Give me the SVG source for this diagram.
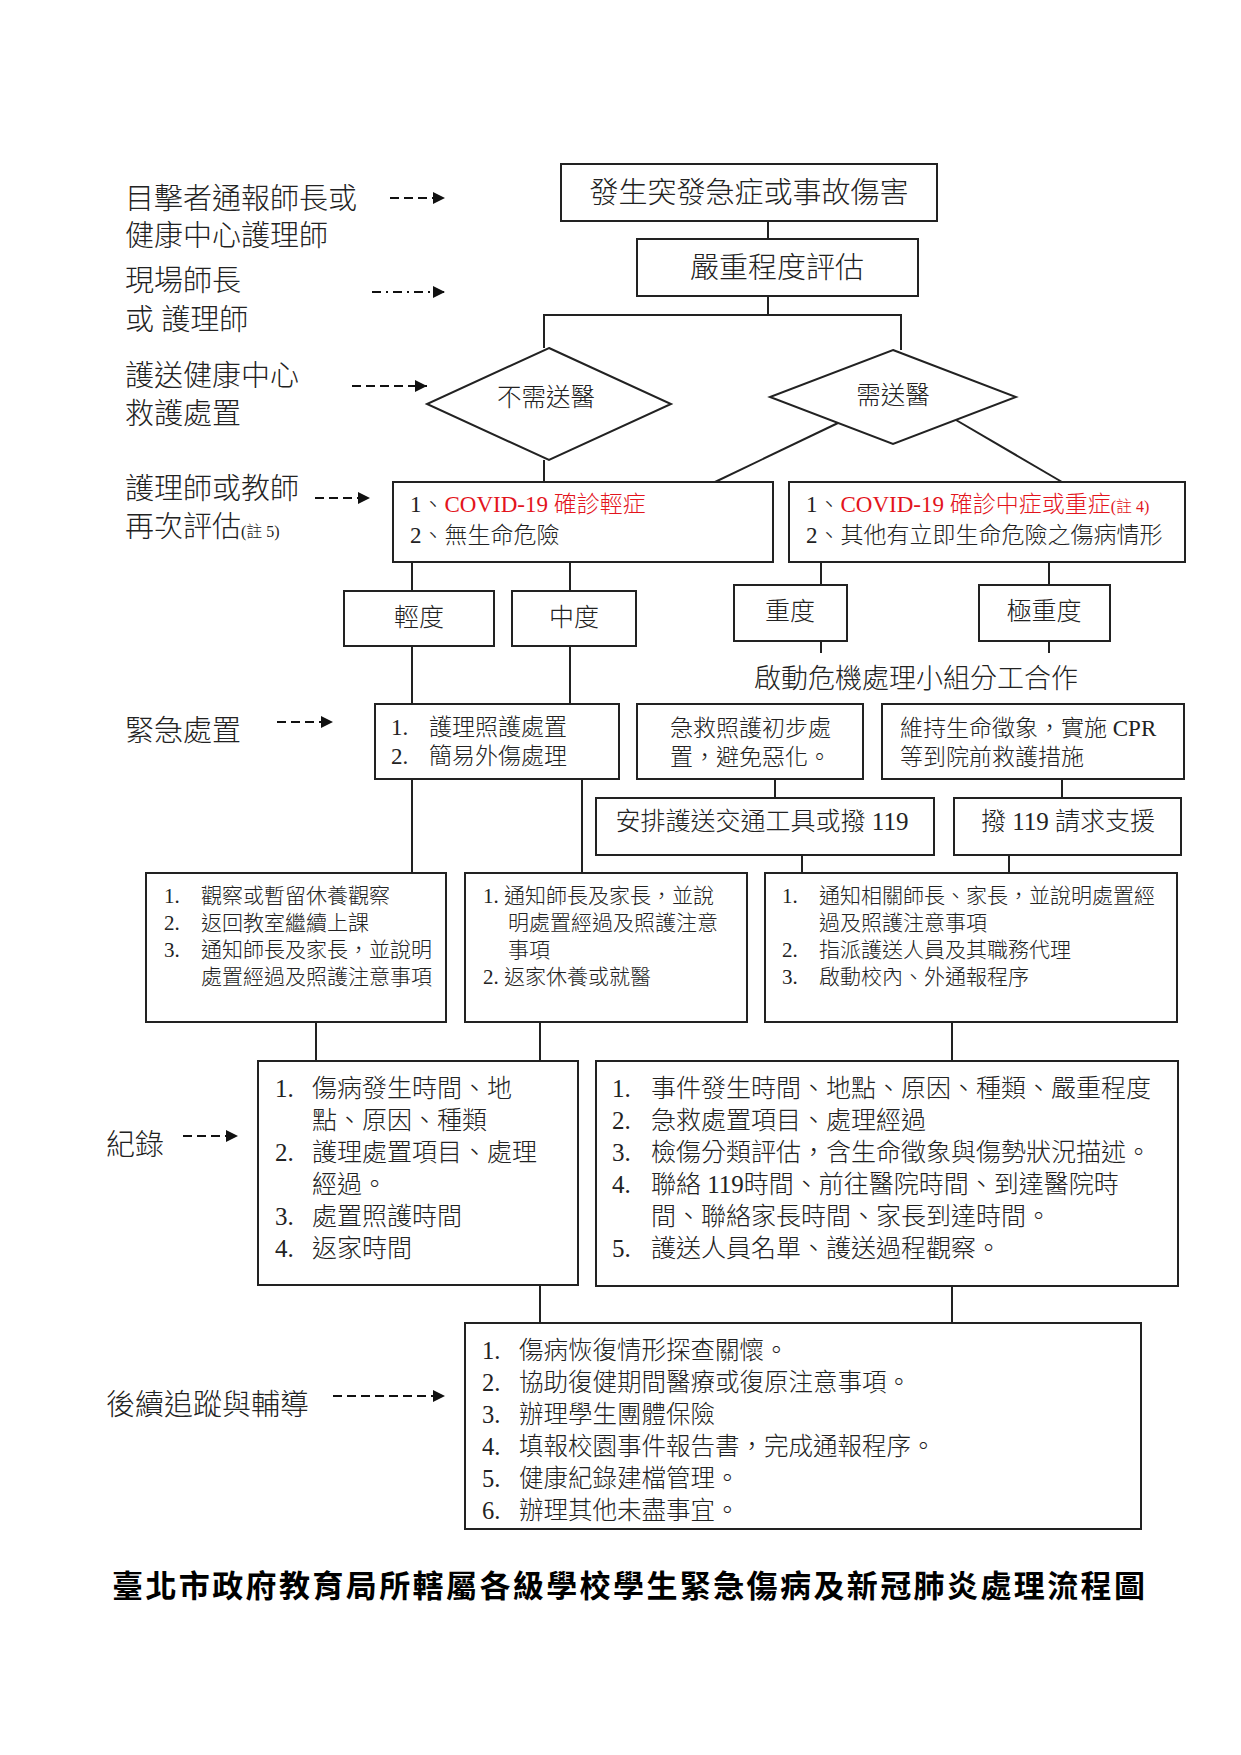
<svg xmlns="http://www.w3.org/2000/svg" width="1241" height="1755" viewBox="0 0 1241 1755">
<defs>
<style>
.box{fill:#fff;stroke:#222;stroke-width:2}
.ln{stroke:#222;stroke-width:2;fill:none}
.da{stroke:#111;stroke-width:2.2;fill:none;stroke-dasharray:9 5}
.dd{stroke:#111;stroke-width:2.2;fill:none;stroke-dasharray:9 5 2 5}
text{font-family:"Liberation Serif","Noto Sans CJK TC",serif;fill:#222;font-weight:300}
.f29{font-size:29px}
.f27{font-size:27px}
.f25{font-size:25px}
.f24{font-size:24.5px}
.f23{font-size:23px}
.f21{font-size:21px}
.red{fill:#e3141c}
.sm{font-size:16px}
.mid{text-anchor:middle}
.title{font-size:31px;font-weight:700;fill:#000}
</style>
<marker id="ah" viewBox="0 0 12 12" markerWidth="12" markerHeight="12" markerUnits="userSpaceOnUse" refX="12" refY="6" orient="auto">
<path d="M0,0 L12,6 L0,12 z" fill="#111"/>
</marker>
</defs>
<rect width="1241" height="1755" fill="#fff"/>

<g id="connectors">
<line class="ln" x1="768" y1="221" x2="768" y2="239"/>
<line class="ln" x1="768" y1="296" x2="768" y2="315"/>
<polyline class="ln" points="544,348 544,315 901,315 901,350"/>
<line class="ln" x1="544" y1="460" x2="544" y2="482"/>
<line class="ln" x1="838" y1="423" x2="715" y2="482"/>
<line class="ln" x1="956" y1="420" x2="1062" y2="482"/>
<line class="ln" x1="412" y1="562" x2="412" y2="591"/>
<line class="ln" x1="570" y1="562" x2="570" y2="591"/>
<line class="ln" x1="821" y1="562" x2="821" y2="585"/>
<line class="ln" x1="1049" y1="562" x2="1049" y2="585"/>
<line class="ln" x1="821" y1="641" x2="821" y2="653"/>
<line class="ln" x1="1049" y1="641" x2="1049" y2="653"/>
<line class="ln" x1="412" y1="646" x2="412" y2="704"/>
<line class="ln" x1="570" y1="646" x2="570" y2="704"/>
<line class="ln" x1="775" y1="779" x2="775" y2="798"/>
<line class="ln" x1="1062" y1="779" x2="1062" y2="798"/>
<line class="ln" x1="412" y1="779" x2="412" y2="873"/>
<line class="ln" x1="582" y1="779" x2="582" y2="873"/>
<line class="ln" x1="802" y1="855" x2="802" y2="873"/>
<line class="ln" x1="1009" y1="855" x2="1009" y2="873"/>
<line class="ln" x1="316" y1="1022" x2="316" y2="1061"/>
<line class="ln" x1="540" y1="1022" x2="540" y2="1061"/>
<line class="ln" x1="952" y1="1022" x2="952" y2="1061"/>
<line class="ln" x1="540" y1="1285" x2="540" y2="1323"/>
<line class="ln" x1="952" y1="1286" x2="952" y2="1323"/>
</g>

<g id="legend-arrows">
<line class="da" x1="390" y1="198" x2="445" y2="198" marker-end="url(#ah)"/>
<line class="dd" x1="372" y1="292" x2="445" y2="292" marker-end="url(#ah)"/>
<line class="da" x1="352" y1="386" x2="427" y2="386" marker-end="url(#ah)"/>
<line class="da" x1="315" y1="498" x2="370" y2="498" marker-end="url(#ah)"/>
<line class="da" x1="277" y1="722" x2="333" y2="722" marker-end="url(#ah)"/>
<line class="da" x1="183" y1="1136" x2="238" y2="1136" marker-end="url(#ah)"/>
<line class="da" x1="333" y1="1396" x2="445" y2="1396" marker-end="url(#ah)"/>
</g>

<g id="labels">
<text class="f29" x="125" y="209">目擊者通報師長或</text>
<text class="f29" x="125" y="246">健康中心護理師</text>
<text class="f29" x="125" y="291">現場師長</text>
<text class="f29" x="125" y="330">或 護理師</text>
<text class="f29" x="125" y="386">護送健康中心</text>
<text class="f29" x="125" y="424">救護處置</text>
<text class="f29" x="125" y="499">護理師或教師</text>
<text class="f29" x="125" y="537">再次評估<tspan class="sm">(註 5)</tspan></text>
<text class="f29" x="125" y="741">緊急處置</text>
<text class="f29" x="106" y="1155">紀錄</text>
<text class="f29" x="106" y="1415">後續追蹤與輔導</text>
</g>

<g id="n-start">
<rect class="box" x="561" y="164" width="376" height="57"/>
<text class="f29 mid" x="749" y="203">發生突發急症或事故傷害</text>
</g>
<g id="n-assess">
<rect class="box" x="637" y="239" width="281" height="57"/>
<text class="f29 mid" x="777" y="278">嚴重程度評估</text>
</g>
<g id="n-nohosp">
<polygon class="box" points="549,348 671,404 549,460 427,404"/>
<text class="f24 mid" x="546" y="406">不需送醫</text>
</g>
<g id="n-hosp">
<polygon class="box" points="893,350 1016,397 893,444 770,397"/>
<text class="f24 mid" x="893" y="404">需送醫</text>
</g>
<g id="n-mild">
<rect class="box" x="393" y="482" width="380" height="80"/>
<text class="f23" x="410" y="512">1、<tspan class="red">COVID-19 確診輕症</tspan></text>
<text class="f23" x="410" y="543">2、無生命危險</text>
</g>
<g id="n-severe">
<rect class="box" x="789" y="482" width="396" height="80"/>
<text class="f23" x="806" y="512">1、<tspan class="red">COVID-19 確診中症或重症<tspan class="sm">(註 4)</tspan></tspan></text>
<text class="f23" x="806" y="543">2、其他有立即生命危險之傷病情形</text>
</g>
<g id="n-light">
<rect class="box" x="344" y="591" width="150" height="55"/>
<text class="f25 mid" x="419" y="626">輕度</text>
</g>
<g id="n-medium">
<rect class="box" x="512" y="591" width="124" height="55"/>
<text class="f25 mid" x="574" y="626">中度</text>
</g>
<g id="n-heavy">
<rect class="box" x="734" y="585" width="113" height="56"/>
<text class="f25 mid" x="790" y="620">重度</text>
</g>
<g id="n-critical">
<rect class="box" x="979" y="585" width="131" height="56"/>
<text class="f25 mid" x="1044" y="620">極重度</text>
</g>
<g id="n-crisis">
<text class="f27 mid" x="916" y="688">啟動危機處理小組分工合作</text>
</g>
<g id="n-care">
<rect class="box" x="375" y="704" width="244" height="75"/>
<text class="f23" x="391" y="735">1.</text><text class="f23" x="429" y="735">護理照護處置</text>
<text class="f23" x="391" y="764">2.</text><text class="f23" x="429" y="764">簡易外傷處理</text>
</g>
<g id="n-firstaid">
<rect class="box" x="637" y="704" width="226" height="75"/>
<text class="f23" x="670" y="736">急救照護初步處</text>
<text class="f23" x="670" y="765">置，避免惡化。</text>
</g>
<g id="n-cpr">
<rect class="box" x="882" y="704" width="302" height="75"/>
<text class="f23" x="900" y="736">維持生命徵象，實施 CPR</text>
<text class="f23" x="900" y="765">等到院前救護措施</text>
</g>
<g id="n-transport">
<rect class="box" x="596" y="798" width="338" height="57"/>
<text class="f25 mid" x="762" y="830">安排護送交通工具或撥 119</text>
</g>
<g id="n-call119">
<rect class="box" x="954" y="798" width="227" height="57"/>
<text class="f25 mid" x="1068" y="830">撥 119 請求支援</text>
</g>
<g id="n-observe">
<rect class="box" x="146" y="873" width="300" height="149"/>
<text class="f21" x="164" y="903">1.</text><text class="f21" x="201" y="903">觀察或暫留休養觀察</text>
<text class="f21" x="164" y="930">2.</text><text class="f21" x="201" y="930">返回教室繼續上課</text>
<text class="f21" x="164" y="957">3.</text><text class="f21" x="201" y="957">通知師長及家長，並說明</text>
<text class="f21" x="201" y="984">處置經過及照護注意事項</text>
</g>
<g id="n-notify">
<rect class="box" x="465" y="873" width="282" height="149"/>
<text class="f21" x="483" y="903">1. 通知師長及家長，並說</text>
<text class="f21" x="508" y="930">明處置經過及照護注意</text>
<text class="f21" x="508" y="957">事項</text>
<text class="f21" x="483" y="984">2. 返家休養或就醫</text>
</g>
<g id="n-notify2">
<rect class="box" x="765" y="873" width="412" height="149"/>
<text class="f21" x="782" y="903">1.</text><text class="f21" x="819" y="903">通知相關師長、家長，並說明處置經</text>
<text class="f21" x="819" y="930">過及照護注意事項</text>
<text class="f21" x="782" y="957">2.</text><text class="f21" x="819" y="957">指派護送人員及其職務代理</text>
<text class="f21" x="782" y="984">3.</text><text class="f21" x="819" y="984">啟動校內、外通報程序</text>
</g>
<g id="n-record1">
<rect class="box" x="258" y="1061" width="320" height="224"/>
<text class="f25" x="275" y="1097">1.</text><text class="f25" x="312" y="1097">傷病發生時間、地</text>
<text class="f25" x="312" y="1129">點、原因、種類</text>
<text class="f25" x="275" y="1161">2.</text><text class="f25" x="312" y="1161">護理處置項目、處理</text>
<text class="f25" x="312" y="1193">經過。</text>
<text class="f25" x="275" y="1225">3.</text><text class="f25" x="312" y="1225">處置照護時間</text>
<text class="f25" x="275" y="1257">4.</text><text class="f25" x="312" y="1257">返家時間</text>
</g>
<g id="n-record2">
<rect class="box" x="596" y="1061" width="582" height="225"/>
<text class="f25" x="612" y="1097">1.</text><text class="f25" x="651" y="1097">事件發生時間、地點、原因、種類、嚴重程度</text>
<text class="f25" x="612" y="1129">2.</text><text class="f25" x="651" y="1129">急救處置項目、處理經過</text>
<text class="f25" x="612" y="1161">3.</text><text class="f25" x="651" y="1161">檢傷分類評估，含生命徵象與傷勢狀況描述。</text>
<text class="f25" x="612" y="1193">4.</text><text class="f25" x="651" y="1193">聯絡 119時間、前往醫院時間、到達醫院時</text>
<text class="f25" x="651" y="1225">間、聯絡家長時間、家長到達時間。</text>
<text class="f25" x="612" y="1257">5.</text><text class="f25" x="651" y="1257">護送人員名單、護送過程觀察。</text>
</g>
<g id="n-followup">
<rect class="box" x="465" y="1323" width="676" height="206"/>
<text class="f24" x="482" y="1359">1.</text><text class="f24" x="519" y="1359">傷病恢復情形探查關懷。</text>
<text class="f24" x="482" y="1391">2.</text><text class="f24" x="519" y="1391">協助復健期間醫療或復原注意事項。</text>
<text class="f24" x="482" y="1423">3.</text><text class="f24" x="519" y="1423">辦理學生團體保險</text>
<text class="f24" x="482" y="1455">4.</text><text class="f24" x="519" y="1455">填報校園事件報告書，完成通報程序。</text>
<text class="f24" x="482" y="1487">5.</text><text class="f24" x="519" y="1487">健康紀錄建檔管理。</text>
<text class="f24" x="482" y="1519">6.</text><text class="f24" x="519" y="1519">辦理其他未盡事宜。</text>
</g>

<text class="title" x="112" y="1597" textLength="1033" lengthAdjust="spacing">臺北市政府教育局所轄屬各級學校學生緊急傷病及新冠肺炎處理流程圖</text>
</svg>
